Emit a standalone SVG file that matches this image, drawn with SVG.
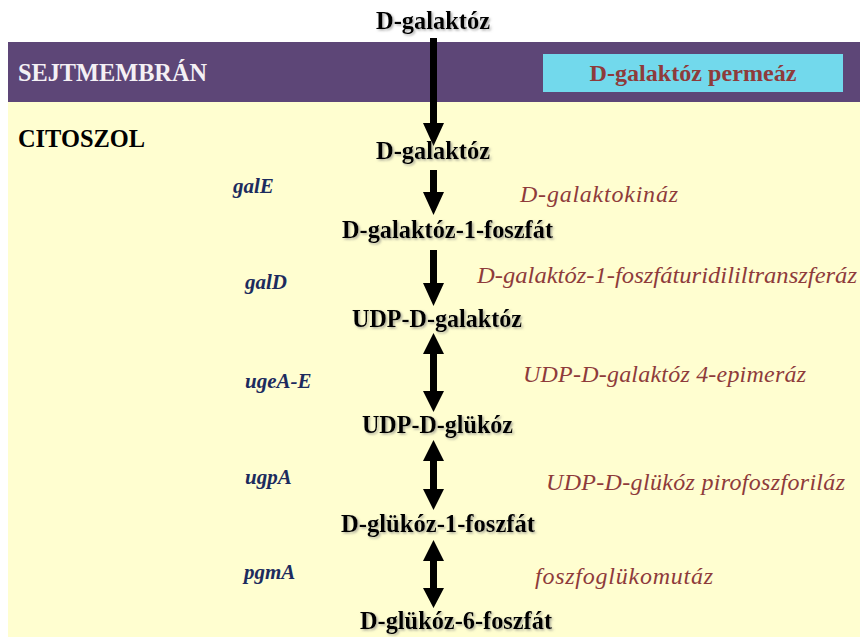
<svg xmlns="http://www.w3.org/2000/svg" width="860" height="637" viewBox="0 0 860 637">
<defs>
<filter id="sh" x="-10%" y="-30%" width="120%" height="160%">
<feDropShadow dx="1.5" dy="1.5" stdDeviation="0.8" flood-color="#777" flood-opacity="0.6"/>
</filter>
<style>
.node{font-family:"Liberation Serif","Times New Roman",serif;font-weight:bold;font-size:26px;fill:#000;text-anchor:middle;filter:url(#sh)}
.gene{font-family:"Liberation Serif","Times New Roman",serif;font-weight:bold;font-style:italic;font-size:21px;fill:#1C2B5E}
.enz{font-family:"Liberation Serif","Times New Roman",serif;font-style:italic;font-size:24px;fill:#8E3B3B}
.zone{font-family:"Liberation Serif","Times New Roman",serif;font-weight:bold;font-size:25px}
.arr{fill:#000}
</style>
</defs>
<rect x="0" y="0" width="860" height="637" fill="#fff"/>
<rect id="citosol" x="8" y="102" width="852" height="535" fill="#FFFED0"/>
<g id="membrane">
<rect x="8" y="42" width="852" height="60" fill="#5D4677"/>
<text class="zone" x="18" y="81" fill="#F4F0F4" textLength="189" lengthAdjust="spacingAndGlyphs">SEJTMEMBRÁN</text>
</g>
<g id="permease">
<rect x="543" y="54" width="300" height="38" fill="#72D9EC"/>
<text x="693" y="81" text-anchor="middle" font-family="Liberation Serif, serif" font-weight="bold" font-size="24" fill="#8E3B3B" textLength="207" lengthAdjust="spacingAndGlyphs">D-galaktóz permeáz</text>
</g>
<text class="zone" x="18" y="147" fill="#000" textLength="127" lengthAdjust="spacingAndGlyphs">CITOSZOL</text>

<g id="connectors">
<polygon class="arr" points="430,38 437,38 437,123 444,123 433.5,146 423,123 430,123"/>
<polygon class="arr" points="430,170 437,170 437,192 444,192 433.5,215 423,192 430,192"/>
<polygon class="arr" points="430,250 437,250 437,283 444,283 433.5,306 423,283 430,283"/>
<polygon class="arr" points="433.5,333 444,354 437,354 437,391 444,391 433.5,412 423,391 430,391 430,354 423,354"/>
<polygon class="arr" points="433.5,440 444,461 437,461 437,489 444,489 433.5,510 423,489 430,489 430,461 423,461"/>
<polygon class="arr" points="433.5,540 444,561 437,561 437,588 444,588 433.5,608 423,588 430,588 430,561 423,561"/>
</g>

<g id="n-galaktoz-out"><text class="node" x="433" y="29" textLength="114" lengthAdjust="spacingAndGlyphs">D-galaktóz</text></g>
<g id="n-galaktoz-in"><text class="node" x="433" y="159" textLength="114" lengthAdjust="spacingAndGlyphs">D-galaktóz</text></g>
<g id="n-gal1p"><text class="node" x="447.5" y="238" textLength="211" lengthAdjust="spacingAndGlyphs">D-galaktóz-1-foszfát</text></g>
<g id="n-udpgal"><text class="node" x="437" y="327" textLength="170" lengthAdjust="spacingAndGlyphs">UDP-D-galaktóz</text></g>
<g id="n-udpglc"><text class="node" x="437.5" y="433" textLength="151" lengthAdjust="spacingAndGlyphs">UDP-D-glükóz</text></g>
<g id="n-glc1p"><text class="node" x="438" y="532" textLength="194" lengthAdjust="spacingAndGlyphs">D-glükóz-1-foszfát</text></g>
<g id="n-glc6p"><text class="node" x="456" y="629" textLength="192" lengthAdjust="spacingAndGlyphs">D-glükóz-6-foszfát</text></g>

<g id="genes">
<text class="gene" x="233" y="193">galE</text>
<text class="gene" x="245" y="289">galD</text>
<text class="gene" x="245" y="388">ugeA-E</text>
<text class="gene" x="245" y="484">ugpA</text>
<text class="gene" x="244" y="579">pgmA</text>
</g>

<g id="enzymes">
<text class="enz" x="520" y="202" textLength="158" lengthAdjust="spacing">D-galaktokináz</text>
<text class="enz" x="477" y="283" textLength="380" lengthAdjust="spacingAndGlyphs">D-galaktóz-1-foszfáturidililtranszferáz</text>
<text class="enz" x="523" y="382" textLength="283" lengthAdjust="spacing">UDP-D-galaktóz 4-epimeráz</text>
<text class="enz" x="546" y="490" textLength="299" lengthAdjust="spacing">UDP-D-glükóz pirofoszforiláz</text>
<text class="enz" x="535" y="584" textLength="178" lengthAdjust="spacing">foszfoglükomutáz</text>
</g>
</svg>
